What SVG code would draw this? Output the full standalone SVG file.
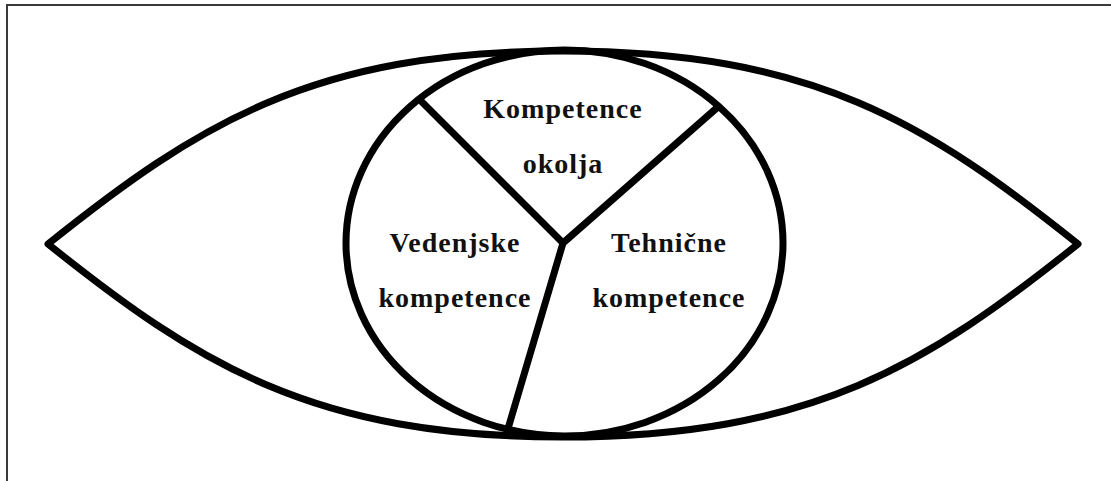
<svg xmlns="http://www.w3.org/2000/svg" width="1111" height="481" viewBox="0 0 1111 481">
  <style>
    .frame { stroke: #3a3a3a; stroke-width: 2; fill: none; }
    .shape { stroke: #000; stroke-width: 7; fill: none; stroke-linejoin: round; }
    .lbl { font-family: "Liberation Serif", "Times New Roman", serif; font-weight: bold; font-size: 28px; letter-spacing: 1px; fill: #111; text-anchor: middle; }
  </style>
  <rect x="0" y="0" width="1111" height="481" fill="#fff"/>
  <path class="frame" d="M7,481 V5 H1111"/>
  <g id="eye">
    <path class="shape" d="M48,244 C198,124 313,51 563,51 C813,51 928,124 1078,244 C928,364 813,437 563,437 C313,437 198,364 48,244 Z"/>
  </g>
  <g id="iris">
    <ellipse class="shape" cx="564.5" cy="243" rx="218.5" ry="193"/>
  </g>
  <g id="connectors">
    <path class="shape" d="M419,99 L563,243 L719,106 M563,243 L507,432"/>
  </g>
  <g id="node-okolja">
    <text class="lbl" x="563" y="118">Kompetence</text>
    <text class="lbl" x="563" y="173">okolja</text>
  </g>
  <g id="node-vedenjske">
    <text class="lbl" x="455" y="252">Vedenjske</text>
    <text class="lbl" x="455" y="307">kompetence</text>
  </g>
  <g id="node-tehnicne">
    <text class="lbl" x="669" y="252">Tehnične</text>
    <text class="lbl" x="669" y="307">kompetence</text>
  </g>
</svg>
